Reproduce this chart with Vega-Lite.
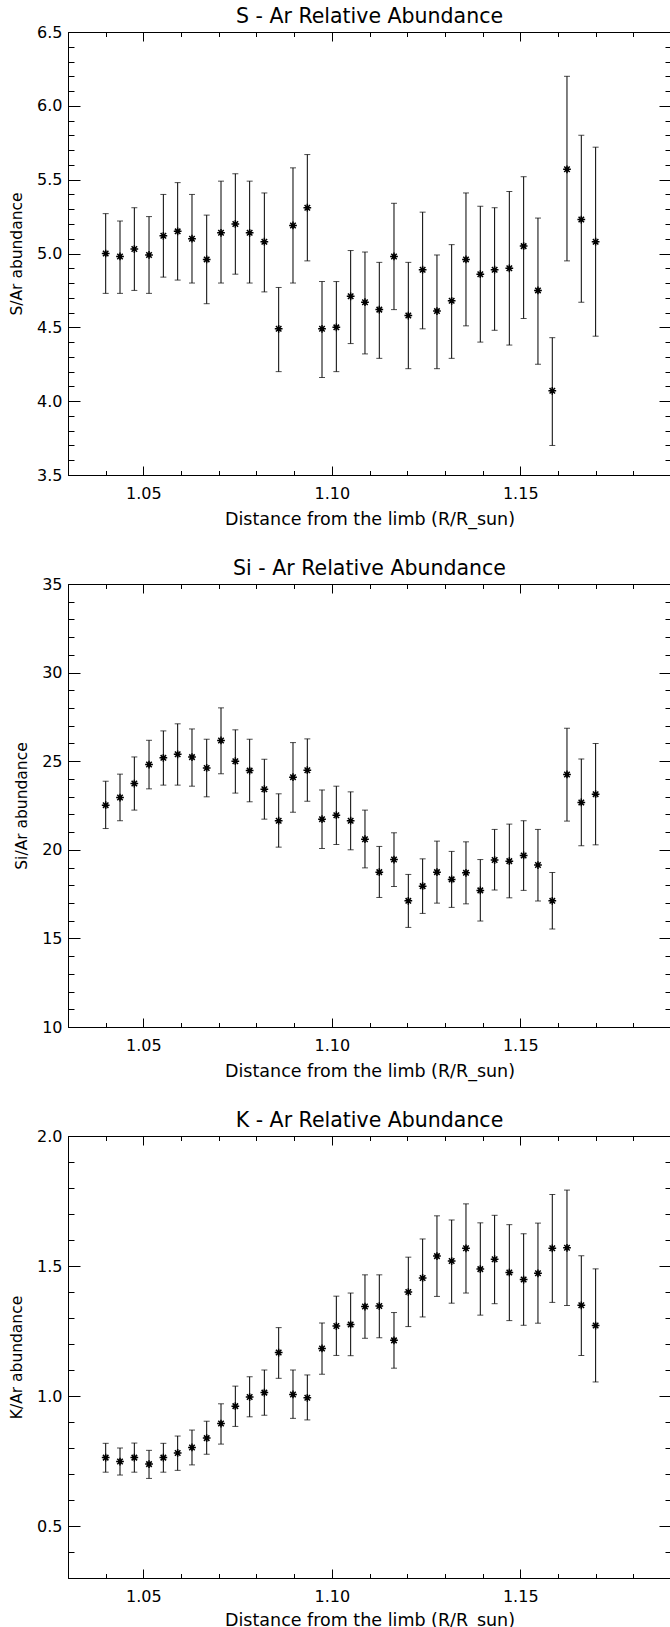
{
  "$schema": "https://vega.github.io/schema/vega-lite/v6.json",
  "background": "white",
  "padding": {"left": 9, "top": 7, "right": 0, "bottom": 0},
  "spacing": 109,
  "bounds": "flush",
  "config": {
    "view": {"stroke": null},
    "font": "DejaVu Sans",
    "axis": {
      "domainColor": "black", "domainWidth": 1, "tickColor": "black", "tickWidth": 1,
      "labelColor": "black", "titleColor": "black", "labelFont": "DejaVu Sans", "titleFont": "DejaVu Sans",
      "labelFontSize": 16, "titleFontSize": 17.5, "titleFontWeight": "normal", "grid": false,
      "labelOverlap": false, "labelFlush": false
    },
    "title": {"font": "DejaVu Sans", "fontSize": 20.5, "fontWeight": "normal", "color": "black", "anchor": "middle", "offset": -3.8}
  },
  "datasets": {
    "s": [
      {"r": 1.0400, "v": 5.00, "lo": 4.73, "hi": 5.27},
      {"r": 1.0438, "v": 4.98, "lo": 4.73, "hi": 5.22},
      {"r": 1.0476, "v": 5.03, "lo": 4.75, "hi": 5.31},
      {"r": 1.0515, "v": 4.99, "lo": 4.73, "hi": 5.25},
      {"r": 1.0553, "v": 5.12, "lo": 4.84, "hi": 5.40},
      {"r": 1.0591, "v": 5.15, "lo": 4.82, "hi": 5.48},
      {"r": 1.0629, "v": 5.10, "lo": 4.80, "hi": 5.40},
      {"r": 1.0668, "v": 4.96, "lo": 4.66, "hi": 5.26},
      {"r": 1.0706, "v": 5.14, "lo": 4.80, "hi": 5.49},
      {"r": 1.0744, "v": 5.20, "lo": 4.86, "hi": 5.54},
      {"r": 1.0782, "v": 5.14, "lo": 4.80, "hi": 5.49},
      {"r": 1.0821, "v": 5.08, "lo": 4.74, "hi": 5.41},
      {"r": 1.0859, "v": 4.49, "lo": 4.20, "hi": 4.77},
      {"r": 1.0897, "v": 5.19, "lo": 4.80, "hi": 5.58},
      {"r": 1.0935, "v": 5.31, "lo": 4.95, "hi": 5.67},
      {"r": 1.0974, "v": 4.49, "lo": 4.16, "hi": 4.81},
      {"r": 1.1012, "v": 4.50, "lo": 4.20, "hi": 4.81},
      {"r": 1.1050, "v": 4.71, "lo": 4.39, "hi": 5.02},
      {"r": 1.1088, "v": 4.67, "lo": 4.32, "hi": 5.01},
      {"r": 1.1126, "v": 4.62, "lo": 4.29, "hi": 4.94},
      {"r": 1.1165, "v": 4.98, "lo": 4.62, "hi": 5.34},
      {"r": 1.1203, "v": 4.58, "lo": 4.22, "hi": 4.94},
      {"r": 1.1241, "v": 4.89, "lo": 4.49, "hi": 5.28},
      {"r": 1.1279, "v": 4.61, "lo": 4.22, "hi": 4.99},
      {"r": 1.1318, "v": 4.68, "lo": 4.29, "hi": 5.06},
      {"r": 1.1356, "v": 4.96, "lo": 4.51, "hi": 5.41},
      {"r": 1.1394, "v": 4.86, "lo": 4.40, "hi": 5.32},
      {"r": 1.1432, "v": 4.89, "lo": 4.48, "hi": 5.31},
      {"r": 1.1471, "v": 4.90, "lo": 4.38, "hi": 5.42},
      {"r": 1.1509, "v": 5.05, "lo": 4.56, "hi": 5.52},
      {"r": 1.1547, "v": 4.75, "lo": 4.25, "hi": 5.24},
      {"r": 1.1585, "v": 4.07, "lo": 3.70, "hi": 4.43},
      {"r": 1.1624, "v": 5.57, "lo": 4.95, "hi": 6.20},
      {"r": 1.1662, "v": 5.23, "lo": 4.67, "hi": 5.80},
      {"r": 1.1700, "v": 5.08, "lo": 4.44, "hi": 5.72}
    ],
    "si": [
      {"r": 1.0400, "v": 22.52, "lo": 21.20, "hi": 23.87},
      {"r": 1.0438, "v": 22.95, "lo": 21.64, "hi": 24.27},
      {"r": 1.0476, "v": 23.74, "lo": 22.24, "hi": 25.24},
      {"r": 1.0515, "v": 24.81, "lo": 23.44, "hi": 26.18},
      {"r": 1.0553, "v": 25.19, "lo": 23.65, "hi": 26.71},
      {"r": 1.0591, "v": 25.39, "lo": 23.65, "hi": 27.11},
      {"r": 1.0629, "v": 25.23, "lo": 23.59, "hi": 26.82},
      {"r": 1.0668, "v": 24.62, "lo": 22.99, "hi": 26.24},
      {"r": 1.0706, "v": 26.17, "lo": 24.29, "hi": 28.01},
      {"r": 1.0744, "v": 25.00, "lo": 23.20, "hi": 26.77},
      {"r": 1.0782, "v": 24.47, "lo": 22.71, "hi": 26.24},
      {"r": 1.0821, "v": 23.42, "lo": 21.73, "hi": 25.11},
      {"r": 1.0859, "v": 21.64, "lo": 20.15, "hi": 23.16},
      {"r": 1.0897, "v": 24.10, "lo": 22.12, "hi": 26.05},
      {"r": 1.0935, "v": 24.49, "lo": 22.74, "hi": 26.26},
      {"r": 1.0974, "v": 21.73, "lo": 20.08, "hi": 23.38},
      {"r": 1.1012, "v": 21.95, "lo": 20.30, "hi": 23.59},
      {"r": 1.1050, "v": 21.64, "lo": 20.00, "hi": 23.27},
      {"r": 1.1088, "v": 20.60, "lo": 18.98, "hi": 22.24},
      {"r": 1.1126, "v": 18.74, "lo": 17.31, "hi": 20.19},
      {"r": 1.1165, "v": 19.45, "lo": 17.93, "hi": 20.96},
      {"r": 1.1203, "v": 17.12, "lo": 15.62, "hi": 18.61},
      {"r": 1.1241, "v": 17.95, "lo": 16.41, "hi": 19.49},
      {"r": 1.1279, "v": 18.74, "lo": 16.99, "hi": 20.49},
      {"r": 1.1318, "v": 18.33, "lo": 16.75, "hi": 19.91},
      {"r": 1.1356, "v": 18.70, "lo": 16.95, "hi": 20.45},
      {"r": 1.1394, "v": 17.71, "lo": 15.98, "hi": 19.45},
      {"r": 1.1432, "v": 19.42, "lo": 17.73, "hi": 21.15},
      {"r": 1.1471, "v": 19.36, "lo": 17.29, "hi": 21.45},
      {"r": 1.1509, "v": 19.68, "lo": 17.71, "hi": 21.64},
      {"r": 1.1547, "v": 19.14, "lo": 17.11, "hi": 21.15},
      {"r": 1.1585, "v": 17.12, "lo": 15.53, "hi": 18.72},
      {"r": 1.1624, "v": 24.25, "lo": 21.62, "hi": 26.86},
      {"r": 1.1662, "v": 22.67, "lo": 20.23, "hi": 25.13},
      {"r": 1.1700, "v": 23.14, "lo": 20.28, "hi": 26.00}
    ],
    "k": [
      {"r": 1.0400, "v": 0.763, "lo": 0.707, "hi": 0.818},
      {"r": 1.0438, "v": 0.748, "lo": 0.696, "hi": 0.800},
      {"r": 1.0476, "v": 0.763, "lo": 0.707, "hi": 0.819},
      {"r": 1.0515, "v": 0.738, "lo": 0.683, "hi": 0.791},
      {"r": 1.0553, "v": 0.763, "lo": 0.707, "hi": 0.818},
      {"r": 1.0591, "v": 0.781, "lo": 0.714, "hi": 0.846},
      {"r": 1.0629, "v": 0.802, "lo": 0.735, "hi": 0.869},
      {"r": 1.0668, "v": 0.838, "lo": 0.776, "hi": 0.903},
      {"r": 1.0706, "v": 0.894, "lo": 0.815, "hi": 0.970},
      {"r": 1.0744, "v": 0.961, "lo": 0.883, "hi": 1.038},
      {"r": 1.0782, "v": 0.996, "lo": 0.920, "hi": 1.074},
      {"r": 1.0821, "v": 1.013, "lo": 0.926, "hi": 1.100},
      {"r": 1.0859, "v": 1.167, "lo": 1.068, "hi": 1.263},
      {"r": 1.0897, "v": 1.006, "lo": 0.914, "hi": 1.100},
      {"r": 1.0935, "v": 0.993, "lo": 0.908, "hi": 1.081},
      {"r": 1.0974, "v": 1.183, "lo": 1.084, "hi": 1.281},
      {"r": 1.1012, "v": 1.269, "lo": 1.156, "hi": 1.384},
      {"r": 1.1050, "v": 1.275, "lo": 1.155, "hi": 1.396},
      {"r": 1.1088, "v": 1.344, "lo": 1.222, "hi": 1.466},
      {"r": 1.1126, "v": 1.346, "lo": 1.224, "hi": 1.466},
      {"r": 1.1165, "v": 1.214, "lo": 1.107, "hi": 1.321},
      {"r": 1.1203, "v": 1.400, "lo": 1.267, "hi": 1.534},
      {"r": 1.1241, "v": 1.454, "lo": 1.304, "hi": 1.604},
      {"r": 1.1279, "v": 1.538, "lo": 1.383, "hi": 1.693},
      {"r": 1.1318, "v": 1.519, "lo": 1.357, "hi": 1.677},
      {"r": 1.1356, "v": 1.568, "lo": 1.396, "hi": 1.739},
      {"r": 1.1394, "v": 1.488, "lo": 1.311, "hi": 1.666},
      {"r": 1.1432, "v": 1.526, "lo": 1.355, "hi": 1.695},
      {"r": 1.1471, "v": 1.475, "lo": 1.290, "hi": 1.659},
      {"r": 1.1509, "v": 1.448, "lo": 1.272, "hi": 1.624},
      {"r": 1.1547, "v": 1.472, "lo": 1.280, "hi": 1.665},
      {"r": 1.1585, "v": 1.568, "lo": 1.360, "hi": 1.775},
      {"r": 1.1624, "v": 1.570, "lo": 1.348, "hi": 1.792},
      {"r": 1.1662, "v": 1.349, "lo": 1.156, "hi": 1.539},
      {"r": 1.1700, "v": 1.271, "lo": 1.054, "hi": 1.489}
    ]
  },
  "vconcat": [
    {
      "width": 603, "height": 443,
      "title": {"text": "S - Ar Relative Abundance"},
      "data": {"name": "s"},
      "layer": [
        {
          "mark": {"type": "rule", "color": "black", "strokeWidth": 1},
          "encoding": {
            "x": {"field": "r", "type": "quantitative", "scale": {"domain": [1.03, 1.19], "nice": false, "zero": false},
              "axis": {"orient": "bottom", "title": "Distance from the limb (R/R_sun)", "labelOverlap": false,
                "values": [1.03,1.04,1.05,1.06,1.07,1.08,1.09,1.10,1.11,1.12,1.13,1.14,1.15,1.16,1.17,1.18,1.19],
                "labelExpr": "abs(datum.value*20-round(datum.value*20))<0.001 ? format(datum.value,'.2f') : ''",
                "tickSize": {"condition": {"test": "abs(datum.value*20-round(datum.value*20))<0.001", "value": -9}, "value": -4.5},
                "labelPadding": 19.5, "titlePadding": 4}},
            "y": {"field": "lo", "type": "quantitative", "scale": {"domain": [3.5, 6.5], "nice": false, "zero": false},
              "axis": {"orient": "left", "title": "S/Ar abundance", "values": [3.5, 4.0, 4.5, 5.0, 5.5, 6.0, 6.5], "format": ".1f",
                "tickSize": -12, "labelPadding": 18, "titlePadding": 12, "titleFontSize": 15.5}},
            "y2": {"field": "hi"}
          }
        },
        {
          "transform": [{"fold": ["lo", "hi"], "as": ["end", "yv"]}],
          "mark": {"type": "tick", "orient": "horizontal", "color": "black", "size": 6, "thickness": 1},
          "encoding": {
            "x": {"field": "r", "type": "quantitative", "scale": {"domain": [1.03, 1.19], "nice": false, "zero": false}, "axis": null},
            "y": {"field": "yv", "type": "quantitative", "scale": {"domain": [3.5, 6.5], "nice": false, "zero": false},
              "axis": {"orient": "left", "title": null, "labels": false, "domain": false, "tickSize": -6,
                "values": [3.5,3.6,3.7,3.8,3.9,4.0,4.1,4.2,4.3,4.4,4.5,4.6,4.7,4.8,4.9,5.0,5.1,5.2,5.3,5.4,5.5,5.6,5.7,5.8,5.9,6.0,6.1,6.2,6.3,6.4,6.5]}}
          }
        },
        {
          "mark": {"type": "point", "shape": "M-1,0L1,0M0,-1L0,1M-0.707,-0.707L0.707,0.707M-0.707,0.707L0.707,-0.707", "filled": false, "stroke": "black", "strokeWidth": 1.5, "size": 60, "opacity": 1},
          "encoding": {
            "x": {"field": "r", "type": "quantitative", "scale": {"domain": [1.03, 1.19], "nice": false, "zero": false},
              "axis": {"orient": "top", "title": null, "labels": false,
                "values": [1.03,1.04,1.05,1.06,1.07,1.08,1.09,1.10,1.11,1.12,1.13,1.14,1.15,1.16,1.17,1.18,1.19],
                "tickSize": {"condition": {"test": "abs(datum.value*20-round(datum.value*20))<0.001", "value": -9}, "value": -4.5}}},
            "y": {"field": "v", "type": "quantitative", "scale": {"domain": [3.5, 6.5], "nice": false, "zero": false},
              "axis": {"orient": "right", "title": null, "labels": false,
                "values": [3.5,3.6,3.7,3.8,3.9,4.0,4.1,4.2,4.3,4.4,4.5,4.6,4.7,4.8,4.9,5.0,5.1,5.2,5.3,5.4,5.5,5.6,5.7,5.8,5.9,6.0,6.1,6.2,6.3,6.4,6.5],
                "tickSize": {"condition": {"test": "abs(datum.value*2-round(datum.value*2))<0.001", "value": -12}, "value": -6}}}
          }
        }
      ],
      "resolve": {"axis": {"x": "independent", "y": "independent"}}
    },
    {
      "width": 603, "height": 443,
      "title": {"text": "Si - Ar Relative Abundance"},
      "data": {"name": "si"},
      "layer": [
        {
          "mark": {"type": "rule", "color": "black", "strokeWidth": 1},
          "encoding": {
            "x": {"field": "r", "type": "quantitative", "scale": {"domain": [1.03, 1.19], "nice": false, "zero": false},
              "axis": {"orient": "bottom", "title": "Distance from the limb (R/R_sun)", "labelOverlap": false,
                "values": [1.03,1.04,1.05,1.06,1.07,1.08,1.09,1.10,1.11,1.12,1.13,1.14,1.15,1.16,1.17,1.18,1.19],
                "labelExpr": "abs(datum.value*20-round(datum.value*20))<0.001 ? format(datum.value,'.2f') : ''",
                "tickSize": {"condition": {"test": "abs(datum.value*20-round(datum.value*20))<0.001", "value": -9}, "value": -4.5},
                "labelPadding": 19.5, "titlePadding": 4}},
            "y": {"field": "lo", "type": "quantitative", "scale": {"domain": [10, 35], "nice": false, "zero": false},
              "axis": {"orient": "left", "title": "Si/Ar abundance", "values": [10, 15, 20, 25, 30, 35], "format": "d",
                "tickSize": -12, "labelPadding": 18, "titlePadding": 12, "titleFontSize": 15.5}},
            "y2": {"field": "hi"}
          }
        },
        {
          "transform": [{"fold": ["lo", "hi"], "as": ["end", "yv"]}],
          "mark": {"type": "tick", "orient": "horizontal", "color": "black", "size": 6, "thickness": 1},
          "encoding": {
            "x": {"field": "r", "type": "quantitative", "scale": {"domain": [1.03, 1.19], "nice": false, "zero": false}, "axis": null},
            "y": {"field": "yv", "type": "quantitative", "scale": {"domain": [10, 35], "nice": false, "zero": false},
              "axis": {"orient": "left", "title": null, "labels": false, "domain": false, "tickSize": -6,
                "values": [10,11,12,13,14,15,16,17,18,19,20,21,22,23,24,25,26,27,28,29,30,31,32,33,34,35]}}
          }
        },
        {
          "mark": {"type": "point", "shape": "M-1,0L1,0M0,-1L0,1M-0.707,-0.707L0.707,0.707M-0.707,0.707L0.707,-0.707", "filled": false, "stroke": "black", "strokeWidth": 1.5, "size": 60, "opacity": 1},
          "encoding": {
            "x": {"field": "r", "type": "quantitative", "scale": {"domain": [1.03, 1.19], "nice": false, "zero": false},
              "axis": {"orient": "top", "title": null, "labels": false,
                "values": [1.03,1.04,1.05,1.06,1.07,1.08,1.09,1.10,1.11,1.12,1.13,1.14,1.15,1.16,1.17,1.18,1.19],
                "tickSize": {"condition": {"test": "abs(datum.value*20-round(datum.value*20))<0.001", "value": -9}, "value": -4.5}}},
            "y": {"field": "v", "type": "quantitative", "scale": {"domain": [10, 35], "nice": false, "zero": false},
              "axis": {"orient": "right", "title": null, "labels": false,
                "values": [10,11,12,13,14,15,16,17,18,19,20,21,22,23,24,25,26,27,28,29,30,31,32,33,34,35],
                "tickSize": {"condition": {"test": "datum.value % 5 == 0", "value": -12}, "value": -6}}}
          }
        }
      ],
      "resolve": {"axis": {"x": "independent", "y": "independent"}}
    },
    {
      "width": 603, "height": 442,
      "title": {"text": "K - Ar Relative Abundance"},
      "data": {"name": "k"},
      "layer": [
        {
          "mark": {"type": "rule", "color": "black", "strokeWidth": 1},
          "encoding": {
            "x": {"field": "r", "type": "quantitative", "scale": {"domain": [1.03, 1.19], "nice": false, "zero": false},
              "axis": {"orient": "bottom", "title": "Distance from the limb (R/R_sun)", "labelOverlap": false,
                "values": [1.03,1.04,1.05,1.06,1.07,1.08,1.09,1.10,1.11,1.12,1.13,1.14,1.15,1.16,1.17,1.18,1.19],
                "labelExpr": "abs(datum.value*20-round(datum.value*20))<0.001 ? format(datum.value,'.2f') : ''",
                "tickSize": {"condition": {"test": "abs(datum.value*20-round(datum.value*20))<0.001", "value": -9}, "value": -4.5},
                "labelPadding": 19.5, "titlePadding": 2}},
            "y": {"field": "lo", "type": "quantitative", "scale": {"domain": [0.3, 2.0], "nice": false, "zero": false},
              "axis": {"orient": "left", "title": "K/Ar abundance", "values": [0.5, 1.0, 1.5, 2.0], "format": ".1f",
                "tickSize": -12, "labelPadding": 18, "titlePadding": 12, "titleFontSize": 15.5}},
            "y2": {"field": "hi"}
          }
        },
        {
          "transform": [{"fold": ["lo", "hi"], "as": ["end", "yv"]}],
          "mark": {"type": "tick", "orient": "horizontal", "color": "black", "size": 6, "thickness": 1},
          "encoding": {
            "x": {"field": "r", "type": "quantitative", "scale": {"domain": [1.03, 1.19], "nice": false, "zero": false}, "axis": null},
            "y": {"field": "yv", "type": "quantitative", "scale": {"domain": [0.3, 2.0], "nice": false, "zero": false},
              "axis": {"orient": "left", "title": null, "labels": false, "domain": false, "tickSize": -6,
                "values": [0.3,0.4,0.5,0.6,0.7,0.8,0.9,1.0,1.1,1.2,1.3,1.4,1.5,1.6,1.7,1.8,1.9,2.0]}}
          }
        },
        {
          "mark": {"type": "point", "shape": "M-1,0L1,0M0,-1L0,1M-0.707,-0.707L0.707,0.707M-0.707,0.707L0.707,-0.707", "filled": false, "stroke": "black", "strokeWidth": 1.5, "size": 60, "opacity": 1},
          "encoding": {
            "x": {"field": "r", "type": "quantitative", "scale": {"domain": [1.03, 1.19], "nice": false, "zero": false},
              "axis": {"orient": "top", "title": null, "labels": false,
                "values": [1.03,1.04,1.05,1.06,1.07,1.08,1.09,1.10,1.11,1.12,1.13,1.14,1.15,1.16,1.17,1.18,1.19],
                "tickSize": {"condition": {"test": "abs(datum.value*20-round(datum.value*20))<0.001", "value": -9}, "value": -4.5}}},
            "y": {"field": "v", "type": "quantitative", "scale": {"domain": [0.3, 2.0], "nice": false, "zero": false},
              "axis": {"orient": "right", "title": null, "labels": false,
                "values": [0.3,0.4,0.5,0.6,0.7,0.8,0.9,1.0,1.1,1.2,1.3,1.4,1.5,1.6,1.7,1.8,1.9,2.0],
                "tickSize": {"condition": {"test": "abs(datum.value*2-round(datum.value*2))<0.001", "value": -12}, "value": -6}}}
          }
        }
      ],
      "resolve": {"axis": {"x": "independent", "y": "independent"}}
    }
  ]
}
